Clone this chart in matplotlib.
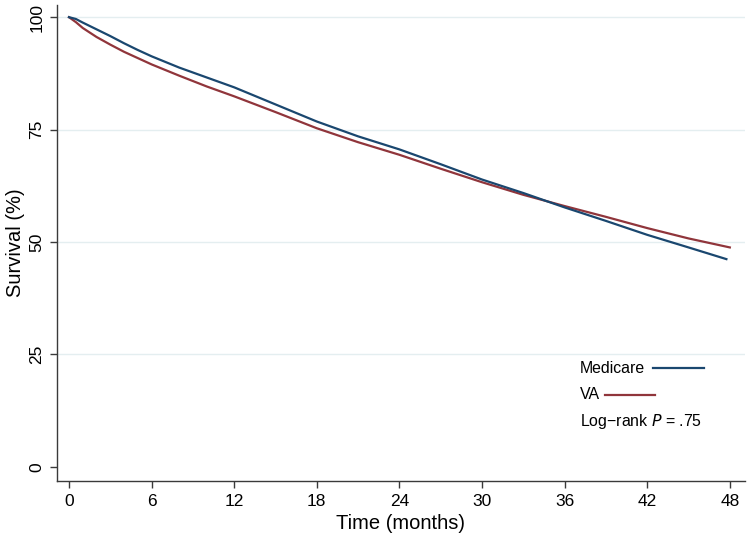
import matplotlib
matplotlib.use('Agg')
from matplotlib import pyplot as plt
from matplotlib.lines import Line2D

# Kaplan-Meier survival (months, %)
medicare_t = [0, 0.5, 1, 2, 3, 4, 5, 6, 8, 10, 12, 15, 18, 21, 24, 27, 30, 33, 36, 39, 42, 45, 47.75]
medicare_s = [100, 99.6, 98.8, 97.3, 95.8, 94.2, 92.7, 91.3, 88.8, 86.6, 84.4, 80.6, 76.8, 73.5,
              70.6, 67.3, 63.9, 60.9, 57.7, 54.7, 51.6, 48.8, 46.2]
va_t = [0, 0.5, 1, 2, 3, 4, 5, 6, 8, 10, 12, 15, 18, 21, 24, 27, 30, 33, 36, 39, 42, 45, 48]
va_s = [100, 98.9, 97.6, 95.6, 93.9, 92.3, 90.9, 89.5, 87.0, 84.6, 82.4, 78.9, 75.3, 72.2,
        69.4, 66.3, 63.3, 60.5, 58.0, 55.6, 53.1, 50.8, 48.8]
x_ticks = list(range(0, 49, 6))
y_ticks = [0, 25, 50, 75, 100]

navy = '#1a476f'
maroon = '#90353b'
axcol = '#3a3a3a'

plt.rcParams['font.family'] = ['Liberation Sans', 'DejaVu Sans']

fig = plt.figure(figsize=(7.5, 5.36), dpi=100)
ax = fig.add_axes([0.076, 0.1026, 0.9173, 0.888])

for y in y_ticks[1:]:
    ax.axhline(y, color='#e4eef0', linewidth=1.0, zorder=0)

ax.plot(medicare_t, medicare_s, color=navy, linewidth=1.6, zorder=3)
ax.plot(va_t, va_s, color=maroon, linewidth=1.6, zorder=2)

ax.set_xlim(-0.87, 49.1)
ax.set_ylim(-3.14, 102.7)
ax.set_xticks(x_ticks)
ax.set_yticks(y_ticks)
ax.tick_params(axis='both', direction='out', length=5, width=1, color=axcol,
               labelsize=12.5, pad=4)
for lab in ax.get_yticklabels():
    lab.set_rotation(90)
    lab.set_va('center')

for s in ['top', 'right']:
    ax.spines[s].set_visible(False)
for s in ['left', 'bottom']:
    ax.spines[s].set_color(axcol)
    ax.spines[s].set_linewidth(1)

ax.set_xlabel('Time (months)', fontsize=14.5, labelpad=4)
ax.set_ylabel('Survival (%)', fontsize=14.5, labelpad=3)

# Stata-style legend: label followed by its key
fs = 11.4
ax.text(0.760, 0.237, 'Medicare', transform=ax.transAxes, fontsize=fs, va='center')
ax.add_line(Line2D([0.867, 0.940], [0.237, 0.237], transform=ax.transAxes,
                   color=navy, linewidth=1.6))
ax.text(0.760, 0.181, 'VA', transform=ax.transAxes, fontsize=fs, va='center')
ax.add_line(Line2D([0.797, 0.869], [0.181, 0.181], transform=ax.transAxes,
                   color=maroon, linewidth=1.6))
ax.text(0.760, 0.124, 'Log\u2212rank $\\it{P}$ = .75', transform=ax.transAxes,
        fontsize=fs, va='center')

fig.savefig('out.png', dpi=100)
